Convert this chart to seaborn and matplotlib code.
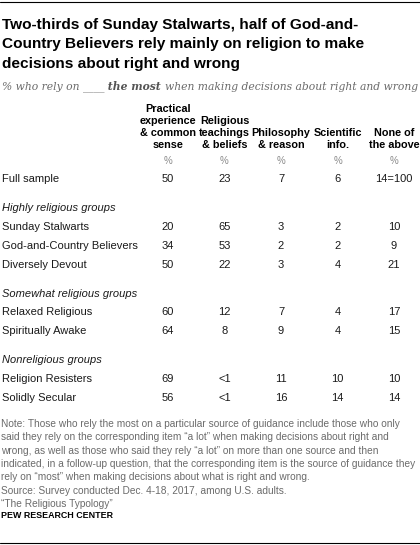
import matplotlib
matplotlib.use("Agg")
import matplotlib.pyplot as plt
import matplotlib.transforms as mtransforms
from matplotlib.lines import Line2D
from matplotlib import font_manager
import seaborn as sns

# ---- data ----
title_lines = ["Two-thirds of Sunday Stalwarts, half of God-and-",
               "Country Believers rely mainly on religion to make",
               "decisions about right and wrong"]
subtitle_parts = ["% who rely on ", "____", " the most ", "when making decisions about right and wrong"]
columns = ["Practical\nexperience\n& common\nsense",
           "Religious\nteachings\n& beliefs",
           "Philosophy\n& reason",
           "Scientific\ninfo.",
           "None of\nthe above"]

full_label = "Full sample"
full_values = [50, 23, 7, 6, 14]

sections = ["Highly religious groups", "Somewhat religious groups", "Nonreligious groups"]
groups = [["Sunday Stalwarts", "God-and-Country Believers", "Diversely Devout"],
          ["Relaxed Religious", "Spiritually Awake"],
          ["Religion Resisters", "Solidly Secular"]]
# one list per column, in the order of the groups above (0.5 stands for "<1")
practical = [20, 34, 50, 60, 64, 69, 56]
religious = [65, 53, 22, 12, 8, 0.5, 0.5]
philosophy = [3, 2, 3, 7, 9, 11, 16]
scientific = [2, 2, 4, 4, 4, 10, 14]
none_above = [10, 9, 21, 17, 15, 10, 14]

note_lines = ["Note: Those who rely the most on a particular source of guidance include those who only",
              "said they rely on the corresponding item \u201ca lot\u201d when making decisions about right and",
              "wrong, as well as those who said they rely \u201ca lot\u201d on more than one source and then",
              "indicated, in a follow-up question, that the corresponding item is the source of guidance they",
              "rely on \u201cmost\u201d when making decisions about what is right and wrong.",
              "Source: Survey conducted Dec. 4-18, 2017, among U.S. adults.",
              "\u201cThe Religious Typology\u201d"]
credit = "PEW RESEARCH CENTER"


def fmt(v):
    return "<1" if v < 1 else f"{v:g}"


sns.set_theme(style="white")
installed = {f.name for f in font_manager.fontManager.ttflist}
narrow = "Liberation Sans Narrow" in installed
plt.rcParams["font.family"] = ["Liberation Sans", "DejaVu Sans"]

W, H = 420, 545
fig = plt.figure(figsize=(W / 100, H / 100), dpi=100)
fig.patch.set_facecolor("white")
renderer = fig.canvas.get_renderer()


def fx(px):
    return px / W


def fy(px):
    return 1 - px / H


# rules at top and bottom
fig.add_artist(Line2D([0, 1], [fy(1.5), fy(1.5)], color="black", lw=0.8))
fig.add_artist(Line2D([0, 1], [fy(542.5), fy(542.5)], color="black", lw=0.8))

# title
for i, line in enumerate(title_lines):
    fig.text(fx(2), fy(29 + i * 19.3), line, fontsize=11.1, fontweight="bold",
             color="black", va="baseline", ha="left")

# subtitle, with a bold part
x = fx(2)
sub_styles = [dict(), dict(), dict(fontweight="bold", color="#555555"), dict()]
for part, st in zip(subtitle_parts, sub_styles):
    kw = dict(fontsize=7.75, style="italic", color="#6b6b6b",
              family=["DejaVu Serif"], va="baseline", ha="left")
    kw.update(st)
    t = fig.text(x, fy(90), part, **kw)
    x = t.get_window_extent(renderer).x1 / W

# table axes: x = column index, y = row index
ax = fig.add_axes([0, 0, 1, 1])
ax.axis("off")
col_x0, col_step = 168, 56.5
row_y0, row_step = 179, 18.8
ax.set_xlim(-col_x0 / col_step, (W - col_x0) / col_step)
ax.set_ylim((H - row_y0) / row_step, -row_y0 / row_step)
lab_tr = mtransforms.blended_transform_factory(ax.transAxes, ax.transData)


def ry(px):
    return (px - row_y0) / row_step


# column headers, built up from the bottom line
for i, col in enumerate(columns):
    lines = col.split("\n")
    for k, line in enumerate(reversed(lines)):
        ax.text(i, ry(147.5 - k * 12), line, fontsize=7.8, fontweight="bold",
                color="black", ha="center", va="baseline")
    ax.text(i, ry(161), "%", fontsize=7, color="#8a8a8a", ha="center", va="center")

# full sample row
r = 0.0
ax.text(fx(2), r, full_label, transform=lab_tr, fontsize=8, color="#1a1a1a", va="center")
for i, v in enumerate(full_values):
    s = fmt(v) + ("=100" if i == len(full_values) - 1 else "")
    ax.text(i, r, s, fontsize=8, color="#1a1a1a", ha="center", va="center")

cols = [practical, religious, philosophy, scientific, none_above]
g = 0
for sec, names in zip(sections, groups):
    r += 1.55
    ax.text(fx(2), r, sec, transform=lab_tr, fontsize=8, style="italic",
            color="#1a1a1a", va="center")
    for name in names:
        r += 1
        ax.text(fx(2), r, name, transform=lab_tr, fontsize=8, color="#1a1a1a", va="center")
        for i, c in enumerate(cols):
            ax.text(i, r, fmt(c[g]), fontsize=8, color="#1a1a1a", ha="center", va="center")
        g += 1

# notes
note_kw = dict(family=["Liberation Sans Narrow", "Liberation Sans"], fontsize=8.6) if narrow \
    else dict(fontsize=7.3)
for i, line in enumerate(note_lines):
    fig.text(fx(1), fy(424 + i * 13.3), line, color="#6b6b6b", va="center", ha="left", **note_kw)
cred_kw = dict(family=["Liberation Sans Narrow", "Liberation Sans"], fontsize=7.8) if narrow \
    else dict(fontsize=6.4)
fig.text(fx(1), fy(515), credit, color="black", fontweight="bold", va="center", ha="left", **cred_kw)

fig.savefig("out.png", dpi=100)
